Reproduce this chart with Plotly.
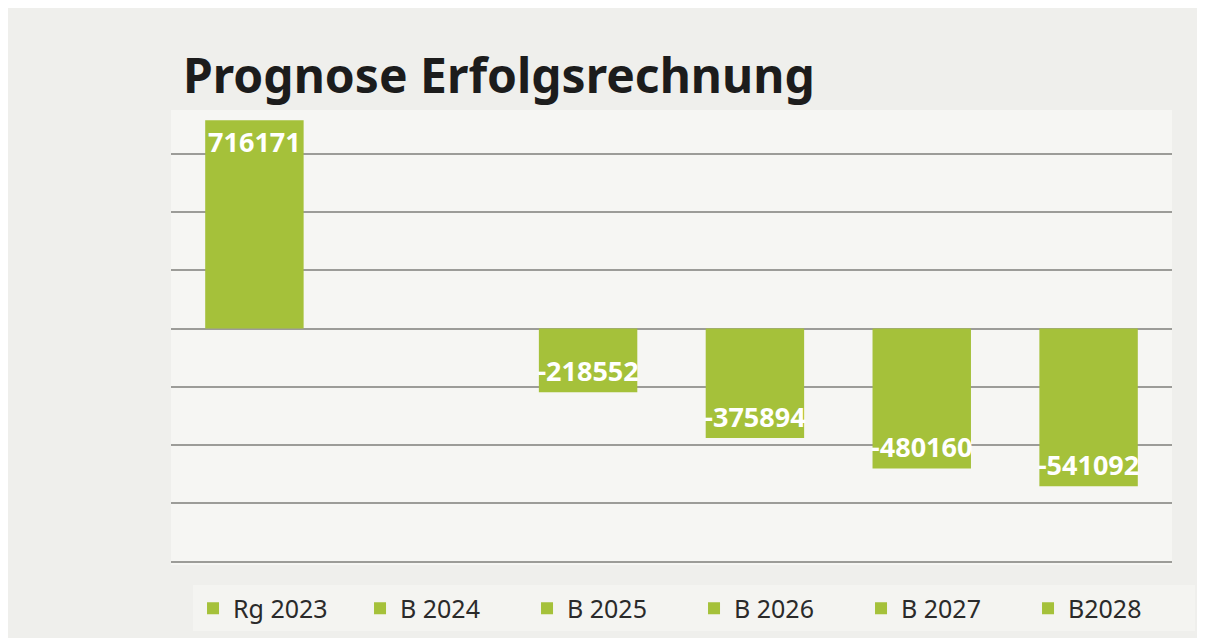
import plotly.graph_objects as go

# Series (one bar each); B 2024 has no bar
series = ["Rg 2023", "B 2024", "B 2025", "B 2026", "B 2027", "B2028"]
values = [716171, None, -218552, -375894, -480160, -541092]

GREEN = "#a5c13a"
GRID = "#9c9c98"

fig = go.Figure()
for name, val in zip(series, values):
    fig.add_bar(
        name=name,
        x=[name],
        y=[val],
        width=0.59,
        marker=dict(color=GREEN, line=dict(width=0)),
        text=[f"{val:.0f}" if val is not None else ""],
        textposition="inside",
        insidetextanchor="end",
        textangle=0,
        constraintext="none",
        textfont=dict(family="Open Sans", size=27, color="white", weight="bold"),
    )

# the page body adds an 8px offset, so the figure is sized 8px smaller
fig.update_layout(
    width=1197,
    height=630,
    barmode="overlay",
    paper_bgcolor="#efefec",
    plot_bgcolor="#f6f6f3",
    margin=dict(l=163, r=33, t=102, b=73, autoexpand=False),
    title=dict(
        text="<b>Prognose Erfolgsrechnung</b>",
        x=0, xref="paper", xanchor="left",
        y=0.891, yref="container", yanchor="middle",
        font=dict(family="Noto Sans", size=48, color="#1c1c1c"),
        pad=dict(l=12),
    ),
    legend=dict(
        orientation="h",
        x=0.022, xanchor="left",
        y=-0.045, yanchor="top",
        bgcolor="#f4f4f1",
        entrywidth=122,
        entrywidthmode="pixels",
        font=dict(family="Noto Sans", size=25, color="#2a2a2a"),
        itemsizing="constant",
    ),
    showlegend=True,
)
fig.update_xaxes(
    type="category",
    categoryorder="array",
    categoryarray=series,
    range=[-0.5, 5.5],
    showticklabels=False,
    showgrid=False,
    zeroline=False,
    showline=False,
)
fig.update_yaxes(
    range=[-812000, 751000],
    dtick=200000,
    tick0=0,
    showticklabels=False,
    showgrid=True,
    gridcolor=GRID,
    gridwidth=1.5,
    zeroline=True,
    zerolinecolor=GRID,
    zerolinewidth=1.5,
    showline=False,
)

fig.write_html("out.html")
